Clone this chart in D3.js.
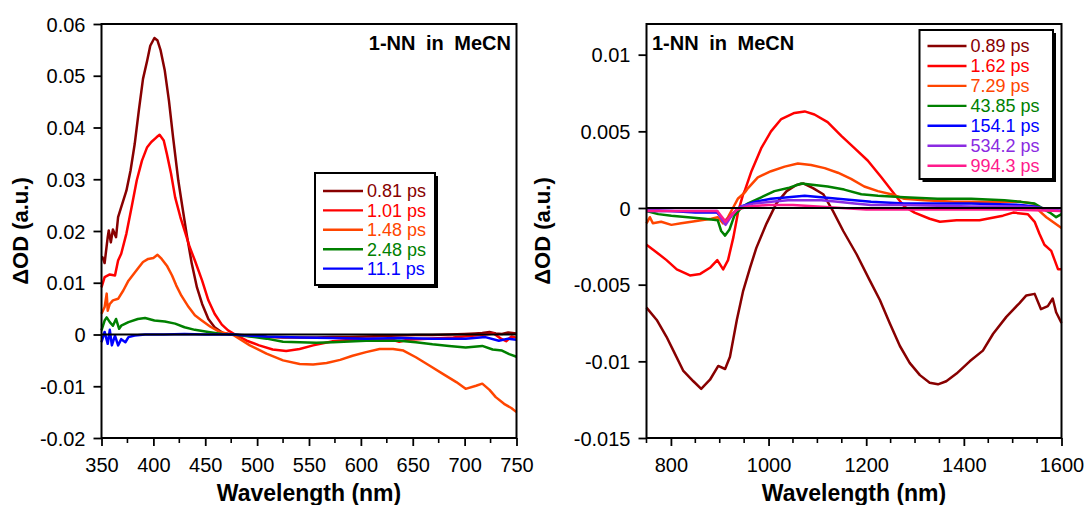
<!DOCTYPE html>
<html><head><meta charset="utf-8">
<script src="https://cdn.jsdelivr.net/npm/d3@7"></script>
<style>body{margin:0;background:#fff}svg{display:block}text{font-family:"Liberation Sans",Arial,sans-serif}</style>
</head><body><svg id="c" width="1086" height="505"></svg>
<script>
// ---------- data ----------
const titleText = "1-NN in MeCN";
const leftLabels = ["0.81 ps","1.01 ps","1.48 ps","2.48 ps","11.1 ps"];
const rightLabels = ["0.89 ps","1.62 ps","7.29 ps","43.85 ps","154.1 ps","534.2 ps","994.3 ps"];
const leftColors = ["#880000","#ff0000","#ff4500","#008000","#0000ff"];
const rightColors = ["#880000","#ff0000","#ff4500","#008000","#0000ff","#8a2be2","#ff1a8c"];
const leftXTicks = [350,400,450,500,550,600,650,700,750];
const leftYTicks = [-0.02,-0.01,0,0.01,0.02,0.03,0.04,0.05,0.06];
const rightXTicks = [800,1000,1200,1400,1600];
const rightYTicks = [-0.015,-0.01,-0.005,0,0.005,0.01];

const L081 = [[350,0.0150],[351,0.0149],[353,0.0138],[356,0.0188],[357,0.0201],[359,0.0178],[361,0.0203],[364,0.0188],[366,0.0227],[369,0.0246],[374,0.0278],[378,0.0317],[382,0.0368],[386,0.0433],[390,0.0494],[394,0.0529],[397,0.0558],[401,0.0573],[404,0.0568],[407,0.0549],[411,0.0510],[415,0.0452],[419,0.0381],[424,0.0298],[428,0.0246],[432,0.0195],[437,0.0137],[442,0.0091],[447,0.0059],[453,0.0030],[459,0.0014],[467,0.0003],[476,0.0000],[493,-0.0003],[510,-0.0005],[525,-0.0006],[540,-0.0006],[557,-0.0006],[573,-0.0005],[589,-0.0005],[605,-0.0004],[621,-0.0003],[637,-0.0002],[653,-0.0001],[669,-0.0001],[685,0.0000],[700,0.0001],[710,0.0002],[717,0.0003],[724,0.0005],[730,0.0002],[736,0.0001],[742,0.0004],[750,0.0002]];
const L101 = [[350,0.0091],[353,0.0111],[358,0.0116],[363,0.0114],[366,0.0143],[369,0.0156],[374,0.0195],[379,0.0246],[384,0.0298],[389,0.0336],[394,0.0362],[398,0.0372],[403,0.0381],[406,0.0386],[410,0.0375],[413,0.0349],[417,0.0311],[421,0.0265],[426,0.0227],[431,0.0195],[435,0.0169],[440,0.0143],[447,0.0104],[453,0.0066],[459,0.0040],[466,0.0019],[472,0.0008],[478,0.0001],[490,-0.0012],[502,-0.0021],[515,-0.0029],[528,-0.0032],[541,-0.0028],[554,-0.0021],[573,-0.0013],[592,-0.0010],[612,-0.0008],[630,-0.0010],[637,-0.0014],[645,-0.0010],[664,-0.0008],[689,-0.0006],[715,-0.0001],[728,0.0002],[735,-0.0008],[740,-0.0013],[745,-0.0004],[750,-0.0006]];
const L148 = [[350,0.0040],[353,0.0053],[355,0.0079],[356,0.0046],[358,0.0059],[361,0.0066],[366,0.0069],[371,0.0085],[376,0.0104],[381,0.0117],[386,0.0130],[390,0.0140],[395,0.0146],[400,0.0148],[404,0.0154],[408,0.0146],[413,0.0133],[418,0.0114],[422,0.0095],[427,0.0075],[434,0.0053],[440,0.0037],[446,0.0028],[455,0.0015],[463,0.0006],[472,0.0001],[477,-0.0001],[485,-0.0011],[493,-0.0021],[509,-0.0037],[525,-0.0050],[541,-0.0057],[554,-0.0058],[567,-0.0055],[580,-0.0049],[592,-0.0041],[605,-0.0034],[618,-0.0028],[631,-0.0028],[641,-0.0031],[653,-0.0044],[666,-0.0060],[679,-0.0076],[692,-0.0092],[701,-0.0105],[711,-0.0099],[717,-0.0095],[724,-0.0107],[730,-0.0121],[738,-0.0134],[745,-0.0142],[750,-0.0150]];
const L248 = [[350,0.0008],[353,0.0027],[355,0.0033],[358,0.0024],[361,0.0017],[364,0.0030],[367,0.0011],[369,0.0017],[376,0.0024],[385,0.0030],[392,0.0032],[401,0.0027],[411,0.0025],[421,0.0021],[430,0.0014],[440,0.0009],[453,0.0005],[466,0.0001],[477,0.0000],[493,-0.0004],[509,-0.0008],[525,-0.0014],[541,-0.0015],[557,-0.0016],[573,-0.0015],[605,-0.0012],[637,-0.0012],[653,-0.0015],[669,-0.0019],[685,-0.0022],[701,-0.0025],[717,-0.0022],[727,-0.0029],[736,-0.0031],[743,-0.0038],[750,-0.0043]];
const L111 = [[350,-0.0015],[353,0.0005],[356,-0.0018],[358,0.0009],[360,-0.0021],[363,-0.0002],[366,-0.0021],[369,-0.0009],[373,-0.0015],[376,-0.0005],[382,-0.0002],[392,0.0000],[410,0.0000],[430,0.0001],[450,0.0000],[477,0.0000],[509,-0.0004],[541,-0.0006],[573,-0.0007],[605,-0.0008],[637,-0.0007],[669,-0.0008],[701,-0.0008],[720,-0.0005],[733,-0.0012],[742,-0.0008],[750,-0.0010]];

const R089 = [[750,-0.0065],[771,-0.0073],[791,-0.0084],[805,-0.0093],[825,-0.0106],[846,-0.0113],[862,-0.0118],[880,-0.0112],[897,-0.0103],[911,-0.0105],[921,-0.0097],[935,-0.0073],[948,-0.0054],[962,-0.0039],[975,-0.0026],[996,-0.0010],[1016,0.0003],[1037,0.0011],[1057,0.0015],[1071,0.0016],[1091,0.0013],[1112,0.0009],[1132,-0.0002],[1153,-0.0015],[1180,-0.0030],[1207,-0.0047],[1228,-0.0060],[1248,-0.0075],[1269,-0.0090],[1289,-0.0101],[1310,-0.0109],[1330,-0.0114],[1347,-0.0115],[1364,-0.0113],[1385,-0.0108],[1412,-0.0100],[1439,-0.0093],[1460,-0.0082],[1487,-0.0071],[1514,-0.0062],[1528,-0.0057],[1545,-0.0056],[1558,-0.0066],[1572,-0.0064],[1582,-0.0059],[1589,-0.0068],[1600,-0.0075]];
const R162 = [[750,-0.0024],[771,-0.0029],[791,-0.0034],[812,-0.0040],[839,-0.0044],[860,-0.0043],[880,-0.0039],[895,-0.0034],[907,-0.0040],[917,-0.0034],[928,-0.0019],[938,-0.0002],[948,0.0009],[951,0.0011],[965,0.0024],[985,0.0039],[1005,0.0050],[1026,0.0058],[1053,0.0062],[1074,0.0063],[1094,0.0061],[1121,0.0056],[1149,0.0047],[1176,0.0039],[1203,0.0031],[1231,0.0020],[1258,0.0009],[1278,0.0001],[1299,-0.0003],[1330,-0.0007],[1351,-0.0009],[1385,-0.0008],[1432,-0.0008],[1480,-0.0005],[1501,-0.0003],[1531,-0.0004],[1545,-0.0009],[1555,-0.0017],[1565,-0.0024],[1579,-0.0028],[1586,-0.0034],[1593,-0.0040],[1600,-0.0040]];
const R729 = [[750,-0.0010],[757,-0.0006],[763,-0.0010],[780,-0.0009],[801,-0.0011],[821,-0.0010],[842,-0.0009],[862,-0.0008],[883,-0.0007],[896,-0.0006],[907,-0.0010],[917,-0.0006],[927,0.0000],[937,0.0006],[951,0.0010],[958,0.0013],[978,0.0020],[1005,0.0024],[1033,0.0027],[1060,0.0029],[1087,0.0028],[1115,0.0026],[1142,0.0023],[1169,0.0019],[1196,0.0014],[1224,0.0011],[1251,0.0009],[1278,0.0006],[1319,0.0005],[1381,0.0004],[1449,0.0004],[1517,0.0004],[1542,0.0003],[1555,-0.0002],[1569,-0.0006],[1582,-0.0009],[1600,-0.0013]];
const R4385 = [[750,-0.0002],[774,-0.0004],[801,-0.0005],[835,-0.0006],[869,-0.0007],[896,-0.0008],[903,-0.0015],[911,-0.0018],[920,-0.0014],[930,-0.0005],[944,0.0000],[958,0.0003],[985,0.0007],[1012,0.0011],[1040,0.0013],[1067,0.0016],[1094,0.0015],[1121,0.0014],[1155,0.0012],[1190,0.0009],[1224,0.0008],[1278,0.0007],[1346,0.0006],[1415,0.0006],[1483,0.0005],[1517,0.0004],[1544,0.0003],[1576,-0.0003],[1589,-0.0006],[1600,-0.0004]];
const R1541 = [[750,-0.0002],[800,-0.0002],[850,-0.0003],[895,-0.0003],[905,-0.0007],[912,-0.0009],[920,-0.0006],[932,-0.0002],[944,0.0001],[971,0.0004],[1005,0.0006],[1040,0.0007],[1074,0.0008],[1108,0.0007],[1142,0.0006],[1176,0.0005],[1210,0.0004],[1278,0.0003],[1415,0.0003],[1517,0.0002],[1544,0.0001],[1570,-0.0001],[1600,-0.0002]];
const R5342 = [[750,-0.0001],[800,-0.0002],[850,-0.0002],[895,-0.0002],[905,-0.0008],[912,-0.0011],[920,-0.0007],[932,-0.0002],[944,0.0001],[971,0.0003],[1005,0.0004],[1040,0.0005],[1074,0.0005],[1108,0.0005],[1142,0.0004],[1176,0.0003],[1210,0.0002],[1278,0.0002],[1415,0.0001],[1517,0.0001],[1560,0.0000],[1600,-0.0002]];
const R9943 = [[750,-0.0002],[800,-0.0002],[850,-0.0002],[895,-0.0002],[905,-0.0006],[912,-0.0009],[920,-0.0006],[935,-0.0001],[960,0.0001],[1000,0.0002],[1050,0.0002],[1100,0.0001],[1150,0.0000],[1200,-0.0001],[1300,-0.0001],[1400,-0.0001],[1500,-0.0001],[1600,-0.0002]];

const leftSeries = [L081,L101,L148,L248,L111];
const rightSeries = [R089,R162,R729,R4385,R1541,R5342,R9943];

// ---------- drawing ----------
const svg = d3.select("#c");
const FONT = '"Liberation Sans",Arial,sans-serif';

function panel(o){
  const x = d3.scaleLinear().domain(o.xd).range([o.x0,o.x1]);
  const y = d3.scaleLinear().domain(o.yd).range([438,24]);
  const g = svg.append("g");
  g.selectAll(".mt").data(o.minor).join("line")
    .attr("x1",d=>x(d)).attr("x2",d=>x(d)).attr("y1",438).attr("y2",443)
    .attr("stroke","#000").attr("stroke-width",1.6);
  const xa = g.append("g").attr("transform","translate(0,438)")
    .call(d3.axisBottom(x).tickValues(o.xt).tickSize(8).tickSizeOuter(0).tickFormat(d3.format("d")));
  const ya = g.append("g").attr("transform",`translate(${o.x0},0)`)
    .call(d3.axisLeft(y).tickValues(o.yt).tickSize(8).tickSizeOuter(0).tickFormat(d=>d===0?"0":String(+d.toFixed(4))));
  [xa,ya].forEach(a=>{
    a.select(".domain").remove();
    a.selectAll("line").attr("stroke","#000").attr("stroke-width",1.8);
    a.selectAll("text").attr("font-family",FONT).attr("font-size",20).attr("fill","#000");
  });
  xa.selectAll("text").attr("dy","0").attr("y",34);
  ya.selectAll("text").attr("x",-16).attr("dy","0.35em");
  const line = d3.line().x(d=>x(d[0])).y(d=>y(d[1]));
  g.selectAll(".s").data(o.series).join("path")
    .attr("d",line).attr("fill","none").attr("stroke",(d,i)=>o.colors[i])
    .attr("stroke-width",2.5).attr("stroke-linejoin","round");
  g.append("line").attr("x1",o.x0).attr("x2",o.x1).attr("y1",y(0)).attr("y2",y(0))
    .attr("stroke","#000").attr("stroke-width",2);
  g.append("rect").attr("x",o.x0).attr("y",24).attr("width",o.x1-o.x0).attr("height",414)
    .attr("fill","none").attr("stroke","#000").attr("stroke-width",2);
  g.append("text").attr("x",(o.x0+o.x1)/2).attr("y",501).attr("text-anchor","middle")
    .attr("font-family",FONT).attr("font-weight","bold").attr("font-size",23).text("Wavelength (nm)");
  g.append("text").attr("transform",`translate(${o.ylx},231) rotate(-90)`).attr("text-anchor","middle")
    .attr("font-family",FONT).attr("font-weight","bold").attr("font-size",22).text("\u0394OD (a.u.)");
  g.append("text").attr("x",o.tx).attr("y",50).attr("text-anchor",o.tanchor)
    .attr("font-family",FONT).attr("font-weight","bold").attr("font-size",20).attr("word-spacing","5px").text(titleText);
  const lg = o.lg;
  g.append("rect").attr("x",lg.x+3).attr("y",lg.y+3).attr("width",lg.w).attr("height",lg.h).attr("fill","#000");
  g.append("rect").attr("x",lg.x).attr("y",lg.y).attr("width",lg.w).attr("height",lg.h)
    .attr("fill","#fff").attr("stroke","#000").attr("stroke-width",2);
  o.labels.forEach((t,i)=>{
    const yy = lg.r0 + i*lg.dy;
    g.append("line").attr("x1",lg.x+8).attr("x2",lg.x+8+lg.len).attr("y1",yy).attr("y2",yy)
      .attr("stroke",o.colors[i]).attr("stroke-width",2.4);
    g.append("text").attr("x",lg.x+8+lg.len+4).attr("y",yy).attr("dy","0.35em")
      .attr("font-family",FONT).attr("font-size",18).attr("fill",o.colors[i]).text(t);
  });
}

panel({xd:[350,750], yd:[-0.02,0.06], x0:101.5, x1:516.5, xt:leftXTicks, yt:leftYTicks,
  minor:d3.range(375,750,50), series:leftSeries, colors:leftColors, labels:leftLabels,
  ylx:28, tx:511, tanchor:"end",
  lg:{x:315,y:173,w:120,h:112,r0:191,dy:19.4,len:40}});
panel({xd:[750,1600], yd:[-0.015,0.012], x0:646.5, x1:1061.5, xt:rightXTicks, yt:rightYTicks,
  minor:d3.range(750,1600,50).filter(d=>d%200!==0), series:rightSeries, colors:rightColors, labels:rightLabels,
  ylx:550, tx:652, tanchor:"start",
  lg:{x:919.5,y:30,w:133.5,h:149,r0:46,dy:19.95,len:39}});
</script></body></html>
